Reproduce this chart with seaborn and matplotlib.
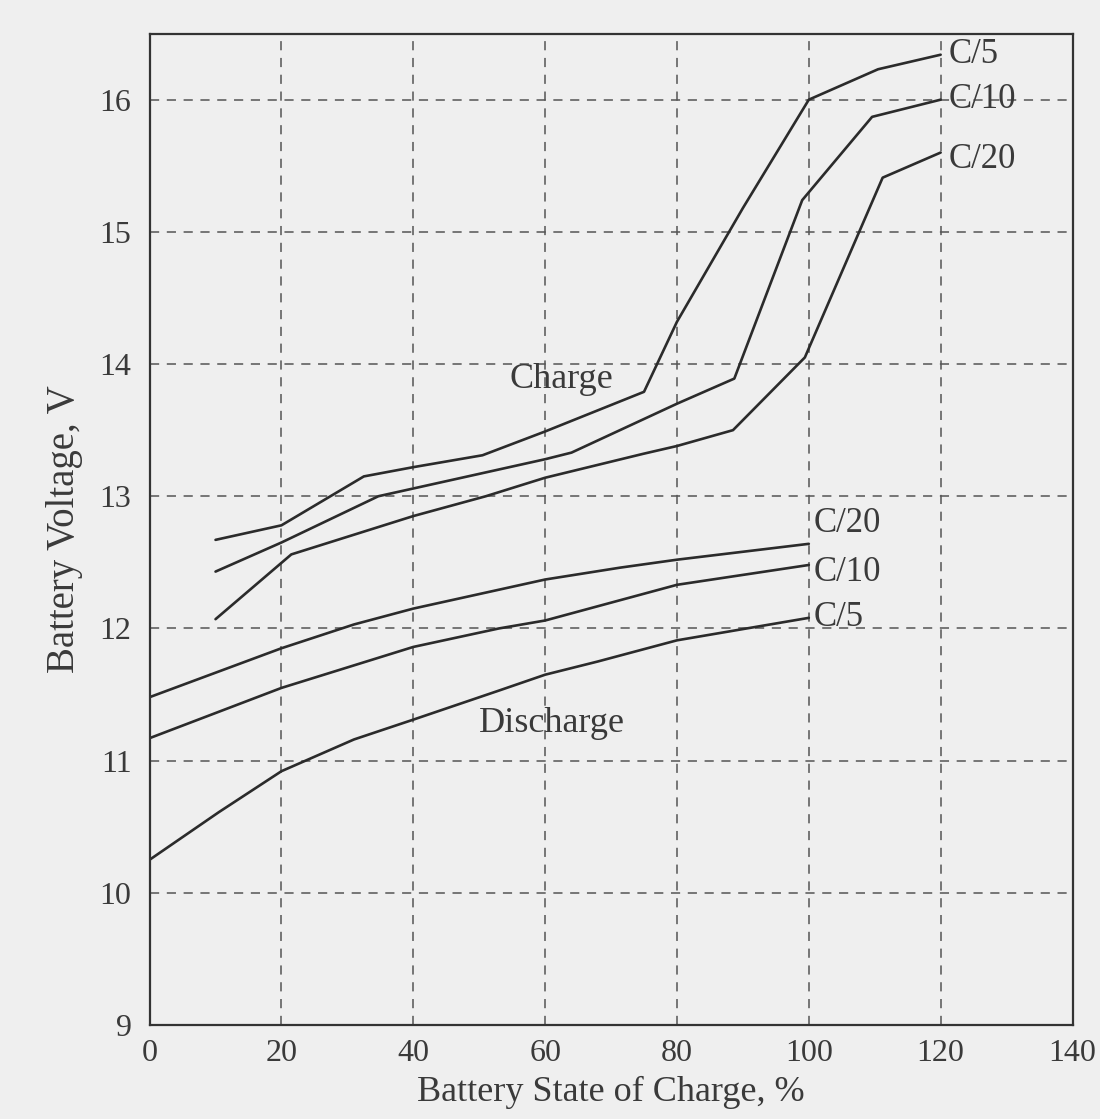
import pandas as pd
import matplotlib.pyplot as plt
import seaborn as sns

# charge curves (state of charge %, voltage V)
chg_c5_soc = [10, 20, 32.5, 40, 50.5, 60, 75, 80, 90, 100, 110.5, 120]
chg_c5_v = [12.67, 12.78, 13.15, 13.22, 13.31, 13.49, 13.79, 14.32, 15.18, 16.0, 16.23, 16.34]

chg_c10_soc = [10, 20, 34.7, 60, 64, 80, 88.7, 99, 109.6, 120]
chg_c10_v = [12.43, 12.65, 13.0, 13.28, 13.33, 13.70, 13.89, 15.24, 15.87, 16.0]

chg_c20_soc = [10, 21.5, 40, 51, 60, 74.8, 80, 88.5, 99.4, 111.2, 120]
chg_c20_v = [12.07, 12.56, 12.85, 13.0, 13.14, 13.32, 13.38, 13.50, 14.05, 15.41, 15.60]

# discharge curves
dis_c20_soc = [0, 20, 31, 40, 60, 71.4, 80, 100]
dis_c20_v = [11.48, 11.85, 12.03, 12.15, 12.37, 12.46, 12.52, 12.64]

dis_c10_soc = [0, 20, 40, 53, 60, 80, 100]
dis_c10_v = [11.17, 11.55, 11.86, 12.0, 12.06, 12.33, 12.48]

dis_c5_soc = [0, 10.5, 20, 31, 40, 53, 60, 68, 80, 100]
dis_c5_v = [10.25, 10.61, 10.92, 11.16, 11.31, 11.53, 11.65, 11.75, 11.91, 12.08]

rate_labels = ["C/5", "C/10", "C/20"]

sns.set_theme(style="white")
plt.rcParams['font.family'] = ['Liberation Serif', 'DejaVu Serif']

bg = "#efefef"
ink = "#2b2b2b"
txt = "#3a3a3a"

fig = plt.figure(figsize=(11, 11.19), dpi=100, facecolor=bg)
ax = fig.add_axes([0.136, 0.084, 0.839, 0.886])
ax.set_facecolor(bg)

curves = [
    (chg_c5_soc, chg_c5_v), (chg_c10_soc, chg_c10_v), (chg_c20_soc, chg_c20_v),
    (dis_c20_soc, dis_c20_v), (dis_c10_soc, dis_c10_v), (dis_c5_soc, dis_c5_v),
]
for soc, v in curves:
    df = pd.DataFrame({"soc": soc, "v": v})
    sns.lineplot(data=df, x="soc", y="v", ax=ax, color=ink, linewidth=1.9,
                 sort=False, estimator=None)

ax.set_xlim(0, 140)
ax.set_ylim(9, 16.5)
ax.set_xticks(range(0, 141, 20))
ax.set_yticks(range(9, 17))

for g in range(20, 140, 20):
    ax.axvline(g, color="#555555", lw=1.1, ls=(0, (6, 5)), zorder=0)
for g in range(10, 17):
    ax.axhline(g, color="#555555", lw=1.1, ls=(0, (6, 5)), zorder=0)

for s in ax.spines.values():
    s.set_visible(True)
    s.set_color("#333333")
    s.set_linewidth(1.6)

ax.tick_params(axis="both", length=4, width=1, direction="out", labelsize=23,
               colors="#333333", labelcolor=txt)
ax.tick_params(axis="y", pad=9)
ax.tick_params(axis="x", pad=6)
ax.set_xlabel("Battery State of Charge, %", fontsize=26, color=txt, labelpad=6)
ax.set_ylabel("Battery Voltage, V", fontsize=28, color=txt, labelpad=12)

# end labels
ends_chg = [chg_c5_v[-1], chg_c10_v[-1], chg_c20_v[-1] - 0.05]
for lab, y in zip(rate_labels, ends_chg):
    ax.text(121.2, y, lab, fontsize=25, color=txt, va="center", ha="left")
ends_dis = [dis_c5_v[-1], dis_c10_v[-1] - 0.06, dis_c20_v[-1] + 0.15]
for lab, y in zip(rate_labels, ends_dis):
    ax.text(100.8, y, lab, fontsize=25, color=txt, va="center", ha="left")

ax.text(62.5, 13.88, "Charge", fontsize=26, color=txt, ha="center", va="center")
ax.text(61, 11.28, "Discharge", fontsize=26, color=txt, ha="center", va="center")

fig.savefig("out.png", dpi=100, facecolor=bg)
